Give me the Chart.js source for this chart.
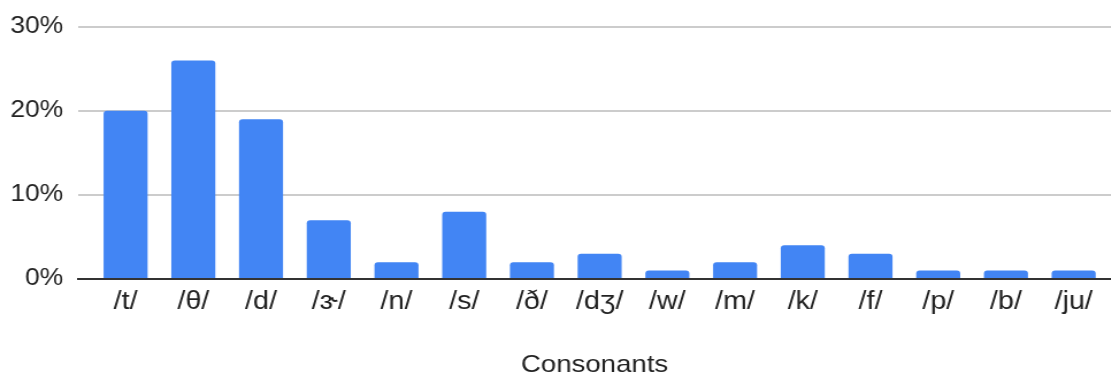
<!DOCTYPE html>
<html>
<head>
<meta charset="utf-8">
<script src="https://cdn.jsdelivr.net/npm/chart.js@4/dist/chart.umd.min.js"></script>
<style>
  html, body { margin: 0; padding: 0; background: #ffffff; overflow: hidden; }
  /* the chart is laid out narrower and widened horizontally */
  #wrap { width: 966px; height: 377px; position: relative; transform: scaleX(1.15); transform-origin: 0 0; }
</style>
</head>
<body>
<div id="wrap"><canvas id="chart"></canvas></div>
<script>
// Share of errors per consonant sound (percent)
const consonants = ['/t/', '/θ/', '/d/', '/ɝ/', '/n/', '/s/', '/ð/', '/dʒ/', '/w/', '/m/', '/k/', '/f/', '/p/', '/b/', '/ju/'];
const shares = [20, 26, 19, 7, 2, 8, 2, 3, 1, 2, 4, 3, 1, 1, 1];
const yTicks = [0, 10, 20, 30];

const points = consonants.map((c, i) => ({ x: i, y: shares[i] }));
const FONT = "'Liberation Sans', Arial, sans-serif";

new Chart(document.getElementById('chart'), {
  type: 'bar',
  data: {
    datasets: [{
      data: points,
      backgroundColor: '#4285f4',
      borderRadius: { topLeft: 3, topRight: 3 },
      borderSkipped: 'bottom',
      categoryPercentage: 1,
      barPercentage: 0.65
    }]
  },
  options: {
    responsive: true,
    maintainAspectRatio: false,
    animation: false,
    layout: { padding: { top: 15, right: 0, left: 0, bottom: 0 } },
    plugins: { legend: { display: false }, tooltip: { enabled: false } },
    scales: {
      x: {
        type: 'linear',
        offset: false,
        min: -0.7,
        max: 14.55,
        afterBuildTicks: s => { s.ticks = consonants.map((c, i) => ({ value: i })); },
        afterFit: s => { s.height = 98; },
        grid: { display: false, drawTicks: false },
        border: { display: true, color: '#333333', width: 2 },
        ticks: {
          autoSkip: false,
          maxRotation: 0,
          padding: 8,
          color: '#222222',
          font: { family: FONT, size: 25 },
          callback: v => consonants[v] ?? ''
        },
        title: {
          display: true,
          text: 'Consonants',
          color: '#222222',
          font: { family: FONT, size: 24, lineHeight: 1 },
          padding: { top: 0, bottom: 0 }
        }
      },
      y: {
        min: 0,
        max: 30,
        afterBuildTicks: s => { s.ticks = yTicks.map(v => ({ value: v })); },
        afterFit: s => { s.width = 68; },
        grid: { color: '#cccccc', lineWidth: 2, drawTicks: false },
        border: { display: false },
        ticks: {
          padding: 13,
          color: '#222222',
          font: { family: FONT, size: 23 },
          callback: v => v + '%'
        }
      }
    }
  }
});
</script>
</body>
</html>
